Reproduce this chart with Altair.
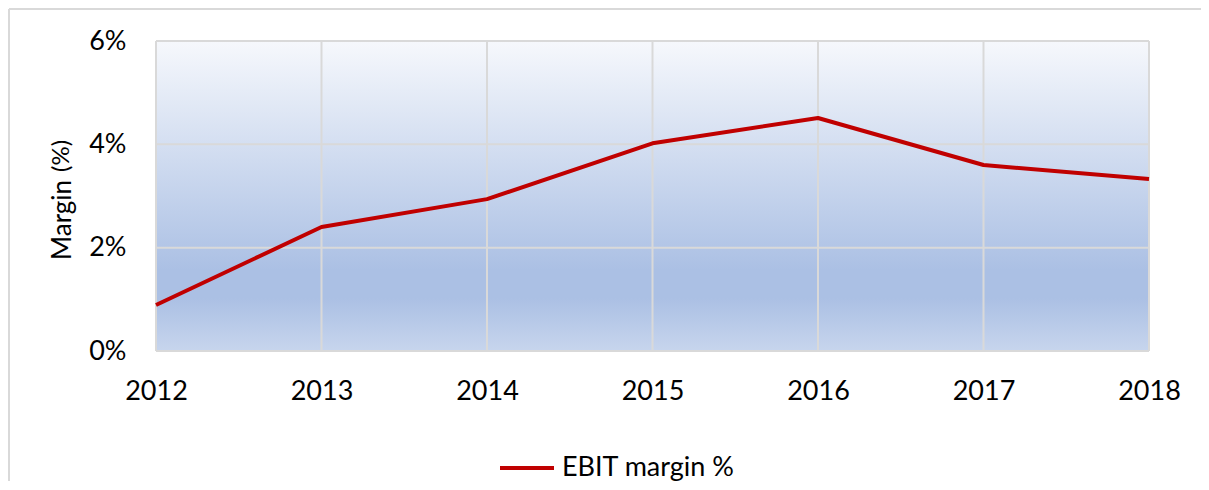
import altair as alt
import pandas as pd

# ---- data ----
years = ["2012", "2013", "2014", "2015", "2016", "2017", "2018"]
ebit_margin = [0.0089, 0.0240, 0.0294, 0.0402, 0.0451, 0.0360, 0.0333]
series_name = "EBIT margin %"
y_ticks = [0.0, 0.02, 0.04, 0.06]

W, H = 993, 310
PAD_R = 52
FONT = "Lato"

df = pd.DataFrame({"year": years, "margin": ebit_margin, "series": [series_name] * len(years)})
df_yt = pd.DataFrame({"v": y_ticks})
df_xt = pd.DataFrame({"year": years})
one = pd.DataFrame({"a": [0]})

xs = alt.Scale(type="point", padding=0, domain=years)
ys = alt.Scale(domain=[0, 0.06], nice=False)

x_axis = alt.Axis(title=None, labelAngle=0, labelAlign="center", labelBaseline="top",
                  labelFontSize=27, labelFont=FONT, labelColor="#000000", labelPadding=27,
                  domain=False, ticks=False, grid=False)
y_axis = alt.Axis(title=None, values=y_ticks, format=".0%", labelFontSize=27,
                  labelFont=FONT, labelColor="#000000", labelPadding=30,
                  domain=False, ticks=False, grid=False)

grad = alt.LinearGradient(
    gradient="linear", x1=0, x2=0, y1=0, y2=1,
    stops=[alt.GradientStop(offset=0, color="#f6f8fc"),
           alt.GradientStop(offset=0.74, color="#abc0e4"),
           alt.GradientStop(offset=0.83, color="#abc0e4"),
           alt.GradientStop(offset=1, color="#c7d5ed")])

frame_top = alt.Chart(one).mark_rule(color="#d9d9d9", strokeWidth=2, strokeCap="butt").encode(
    x=alt.value(-147), x2=alt.value(W + PAD_R), y=alt.value(-32))
frame_left = alt.Chart(one).mark_rule(color="#d9d9d9", strokeWidth=2, strokeCap="butt").encode(
    x=alt.value(-147), y=alt.value(-32), y2=alt.value(H + 130))

bg = alt.Chart(one).mark_rect(fill=grad).encode(
    x=alt.value(0), x2=alt.value(W), y=alt.value(0), y2=alt.value(H))

ygrid = alt.Chart(df_yt).mark_rule(color="#d9d9d9", strokeWidth=2).encode(
    y=alt.Y("v:Q", scale=ys, axis=y_axis))

xgrid = alt.Chart(df_xt).mark_rule(color="#d9d9d9", strokeWidth=2).encode(
    x=alt.X("year:O", scale=xs, axis=x_axis))

line = alt.Chart(df).mark_line(strokeWidth=4, strokeJoin="round").encode(
    x=alt.X("year:O", scale=xs, axis=x_axis),
    y=alt.Y("margin:Q", scale=ys, axis=y_axis),
    color=alt.Color("series:N", scale=alt.Scale(domain=[series_name], range=["#c00000"]),
                    legend=alt.Legend(title=None, orient="none", legendX=342, legendY=398,
                                      symbolType="stroke", symbolSize=2916,
                                      symbolStrokeWidth=4, labelFont=FONT,
                                      labelFontSize=27, labelColor="#000000",
                                      labelLimit=0, labelOffset=6, padding=0)))

title1 = alt.Chart(one).mark_text(text="Margin", angle=270, align="left",
                                  baseline="alphabetic", font=FONT, fontSize=26,
                                  color="#000000").encode(
    x=alt.value(-85), y=alt.value(219))
title2 = alt.Chart(one).mark_text(text="(%)", angle=270, align="left",
                                  baseline="alphabetic", font=FONT, fontSize=24,
                                  color="#000000").encode(
    x=alt.value(-87), y=alt.value(131))

chart = alt.layer(frame_top, frame_left, bg, ygrid, xgrid, line, title1, title2).properties(
    width=W, height=H,
    autosize=alt.AutoSizeParams(type="none"),
    padding={"left": 148, "top": 33, "right": PAD_R, "bottom": 130},
    background="#ffffff",
).configure_view(stroke=None)

chart.save("out.html", embed_options={"renderer": "svg", "actions": False})
